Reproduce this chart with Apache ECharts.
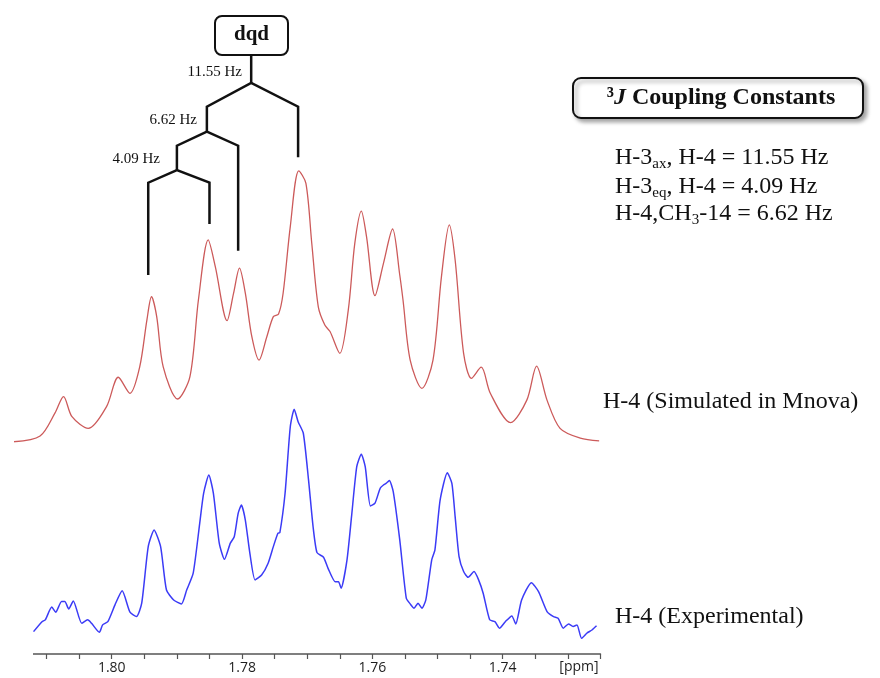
<!DOCTYPE html>
<html><head><meta charset="utf-8">
<script src="https://cdn.jsdelivr.net/npm/echarts/dist/echarts.min.js"></script>
<style>html,body{margin:0;padding:0;background:#fff}#c{width:880px;height:678px}</style>
</head><body><div id="c"></div>
<script>
// ---- data (chemical shift in ppm, intensity in arbitrary units) ----
const simPpm = [1.8150,1.8110,1.8087,1.8074,1.8061,1.8036,1.8008,1.7990,1.7972,1.7957,1.7946,1.7939,1.7931,1.7921,1.7899,1.7880,1.7867,1.7852,1.7841,1.7823,1.7813,1.7804,1.7795,1.7785,1.7774,1.7762,1.7752,1.7744,1.7737,1.7726,1.7713,1.7702,1.7693,1.7683,1.7673,1.7665,1.7650,1.7637,1.7627,1.7617,1.7609,1.7596,1.7583,1.7569,1.7558,1.7553,1.7542,1.7524,1.7507,1.7494,1.7482,1.7473,1.7460,1.7448,1.7433,1.7419,1.7388,1.7363,1.7348,1.7332,1.7312,1.7281,1.7252];
const simInt = [0.1,2.2,10.7,16.7,9.3,5.0,13.0,23.8,17.9,27.7,44.9,53.4,46.1,27.6,15.8,24.0,52.2,74.3,64.4,44.6,54.7,63.9,54.7,38.7,30.1,38.7,46.1,47.1,54.7,79.2,99.7,95.1,73.0,49.7,43.0,40.6,32.6,48.5,73.0,84.9,75.5,53.8,65.7,78.3,61.4,52.2,30.1,19.7,30.1,60.8,79.8,66.9,32.6,23.4,27.5,17.9,7.1,15.4,27.9,15.4,5.0,1.4,0.4];

const expPpm = [1.8120,1.8107,1.8102,1.8092,1.8086,1.8077,1.8072,1.8066,1.8059,1.8046,1.8037,1.8031,1.8019,1.8014,1.8006,1.7995,1.7984,1.7972,1.7962,1.7954,1.7944,1.7935,1.7925,1.7916,1.7905,1.7893,1.7885,1.7875,1.7865,1.7859,1.7851,1.7844,1.7835,1.7827,1.7818,1.7812,1.7806,1.7801,1.7795,1.7788,1.7780,1.7770,1.7760,1.7752,1.7745,1.7742,1.7734,1.7726,1.7720,1.7714,1.7706,1.7698,1.7691,1.7685,1.7675,1.7668,1.7657,1.7652,1.7648,1.7639,1.7632,1.7624,1.7617,1.7611,1.7603,1.7596,1.7588,1.7583,1.7579,1.7574,1.7568,1.7558,1.7548,1.7542,1.7536,1.7530,1.7524,1.7518,1.7509,1.7504,1.7496,1.7485,1.7478,1.7473,1.7467,1.7460,1.7453,1.7444,1.7437,1.7430,1.7420,1.7412,1.7405,1.7396,1.7386,1.7380,1.7371,1.7356,1.7345,1.7332,1.7322,1.7315,1.7307,1.7299,1.7292,1.7286,1.7279,1.7271,1.7263,1.7256];
const expInt = [3.6,7.9,8.7,14.2,12.0,16.6,16.6,13.4,16.9,7.2,8.7,7.2,3.3,6.5,7.9,15.2,21.3,12.0,10.1,15.9,40.4,47.6,40.4,21.6,17.3,15.6,21.6,28.9,50.5,63.5,71.4,63.5,41.9,34.9,41.9,44.7,54.8,58.4,51.9,37.5,26.0,28.1,33.2,40.4,46.2,46.5,63.5,92.3,99.9,94.5,89.5,69.3,49.0,37.8,35.8,31.0,25.2,25.2,22.4,34.6,53.4,75.0,80.4,75.0,58.0,59.2,65.7,67.1,67.8,69.0,64.2,43.3,18.1,15.6,13.7,15.9,13.7,17.3,34.6,39.0,60.6,72.4,67.8,53.4,36.1,29.6,27.1,29.6,26.0,20.2,8.7,7.9,5.1,7.9,10.4,6.9,17.3,24.8,20.9,12.3,10.1,9.4,5.1,6.9,5.8,6.5,0.7,2.9,4.3,6.1];

const tickLabels = ['1.80','1.78','1.76','1.74'];
const axisUnit = '[ppm]';
const xMin = 1.725, xMax = 1.815, tickStep = 0.005;

// splitting tree (ppm of each branch)
const treeRoot = 1.7786;
const treeJ1 = [1.7854, 1.7714];   // 11.55 Hz
const treeJ2 = [1.7900, 1.7806];   // 6.62 Hz
const treeJ3 = [1.7944, 1.7850];   // 4.09 Hz
const treeLabels = ['11.55 Hz','6.62 Hz','4.09 Hz'];

const serif = '"Liberation Serif","Times New Roman",serif';

const chart = echarts.init(document.getElementById('c'), null, {renderer:'canvas'});
const gridL = 14, gridR = 880 - 600.45;

const option = {
  animation: false,
  backgroundColor: '#fff',
  grid: [
    {left: gridL, right: gridR, top: 170, bottom: 678 - 442},
    {left: gridL, right: gridR, top: 409, bottom: 678 - 654}
  ],
  xAxis: [
    {gridIndex: 0, type: 'value', min: xMin, max: xMax, inverse: true, show: false},
    {gridIndex: 1, type: 'value', min: xMin, max: xMax, inverse: true, interval: tickStep,
     axisLine: {show: true, onZero: false, lineStyle: {color: '#555', width: 1.5}},
     axisTick: {show: true, length: 5, lineStyle: {color: '#555', width: 1.2}},
     splitLine: {show: false},
     axisLabel: {show: true, interval: 0, margin: 7, color: '#1e1e1e', fontSize: 14,
       fontFamily: '"Open Sans", sans-serif',
       formatter: function (v) {
         const s = v.toFixed(2);
         return (Math.abs(v - parseFloat(s)) < 1e-6 && tickLabels.indexOf(s) >= 0) ? s : '';
       }}
    }
  ],
  yAxis: [
    {gridIndex: 0, type: 'value', min: 0, max: 100, show: false},
    {gridIndex: 1, type: 'value', min: -6.1, max: 100, show: false}
  ],
  series: [
    {type: 'line', xAxisIndex: 0, yAxisIndex: 0, symbol: 'none', smooth: 0.3, silent: true,
     lineStyle: {color: '#cc5a5a', width: 1.3},
     data: simPpm.map((p, i) => [p, simInt[i]])},
    {type: 'line', xAxisIndex: 1, yAxisIndex: 1, symbol: 'none', smooth: 0.2, silent: true,
     lineStyle: {color: '#3b3bf6', width: 1.5},
     data: expPpm.map((p, i) => [p, expInt[i]])}
  ]
};
chart.setOption(option);

const px = p => chart.convertToPixel({xAxisIndex: 0}, p);
const lineStyle = {stroke: '#111', lineWidth: 2.5, fill: null, lineJoin: 'miter'};
function poly(pts) { return {type: 'polyline', shape: {points: pts}, style: lineStyle, z: 50}; }
function txt(x, y, text, font, align, extra) {
  return Object.assign({type: 'text', x: x, y: y, z: 60,
    style: Object.assign({text: text, font: font, fill: '#111', align: align, verticalAlign: 'middle',
      textAlign: align, textVerticalAlign: 'middle'}, extra || {})});
}
const sub = {fontSize: 15, fontFamily: serif, lineHeight: 15, verticalAlign: 'bottom', padding: [9, 0, 0, 0], fill: '#111'};
const main = {fontSize: 24, fontFamily: serif, lineHeight: 28, fill: '#111'};

const graphics = [
  // mask the axis beyond the spectrum window
  {type: 'rect', shape: {x: 0, y: 646, width: 33, height: 20}, style: {fill: '#fff'}, z: 100},
  {type: 'text', x: 579, y: 667, z: 60, style: {text: axisUnit, font: '14px "Open Sans", sans-serif', fill: '#1e1e1e',
    align: 'center', verticalAlign: 'middle', textAlign: 'center', textVerticalAlign: 'middle'}},
  // dqd box
  {type: 'rect', shape: {x: 215, y: 16, width: 73, height: 39, r: 7}, style: {fill: '#fff', stroke: '#111', lineWidth: 2}, z: 50},
  txt(251.5, 35, 'dqd', 'bold 21px ' + serif, 'center'),
  // tree
  poly([[px(treeRoot), 55], [px(treeRoot), 83]]),
  poly([[px(treeJ1[0]), 131.7], [px(treeJ1[0]), 106.7], [px(treeRoot), 83], [px(treeJ1[1]), 106.7], [px(treeJ1[1]), 157.3]]),
  poly([[px(treeJ2[0]), 170], [px(treeJ2[0]), 145.7], [px(treeJ1[0]), 131.7], [px(treeJ2[1]), 145.7], [px(treeJ2[1]), 250.7]]),
  poly([[px(treeJ3[0]), 275], [px(treeJ3[0]), 182.7], [px(treeJ2[0]), 170], [px(treeJ3[1]), 182.7], [px(treeJ3[1]), 224]]),
  txt(242, 72, treeLabels[0], '15px ' + serif, 'right'),
  txt(197, 120, treeLabels[1], '15px ' + serif, 'right'),
  txt(160, 159, treeLabels[2], '15px ' + serif, 'right'),
  // coupling constants box
  {type: 'rect', shape: {x: 573, y: 78, width: 290, height: 40, r: 8},
   style: {fill: '#fff', stroke: '#111', lineWidth: 2, shadowBlur: 4, shadowOffsetX: 3, shadowOffsetY: 3, shadowColor: 'rgba(0,0,0,0.35)'}, z: 50},
  {type: 'text', x: 721, y: 98, z: 60, style: {
    text: '{b|³}{bi|J}{b| Coupling Constants}', align: 'center', verticalAlign: 'middle', textAlign: 'center', textVerticalAlign: 'middle',
    rich: {b: {fontSize: 24, fontWeight: 'bold', fontFamily: serif, fill: '#111'},
           bi: {fontSize: 24, fontWeight: 'bold', fontStyle: 'italic', fontFamily: serif, fill: '#111'}}}},
  {type: 'text', x: 615, y: 158, z: 60, style: {text: '{m|H-3}{s|ax}{m|, H-4 = 11.55 Hz}', align: 'left', verticalAlign: 'middle',
    textAlign: 'left', textVerticalAlign: 'middle', rich: {m: main, s: sub}}},
  {type: 'text', x: 615, y: 187, z: 60, style: {text: '{m|H-3}{s|eq}{m|, H-4 = 4.09 Hz}', align: 'left', verticalAlign: 'middle',
    textAlign: 'left', textVerticalAlign: 'middle', rich: {m: main, s: sub}}},
  {type: 'text', x: 615, y: 214, z: 60, style: {text: '{m|H-4,CH}{s|3}{m|-14 = 6.62 Hz}', align: 'left', verticalAlign: 'middle',
    textAlign: 'left', textVerticalAlign: 'middle', rich: {m: main, s: sub}}},
  txt(603, 402, 'H-4 (Simulated in Mnova)', '24px ' + serif, 'left'),
  txt(615, 617, 'H-4 (Experimental)', '24px ' + serif, 'left')
];
chart.setOption({graphic: {elements: graphics}});
</script>
</body></html>
